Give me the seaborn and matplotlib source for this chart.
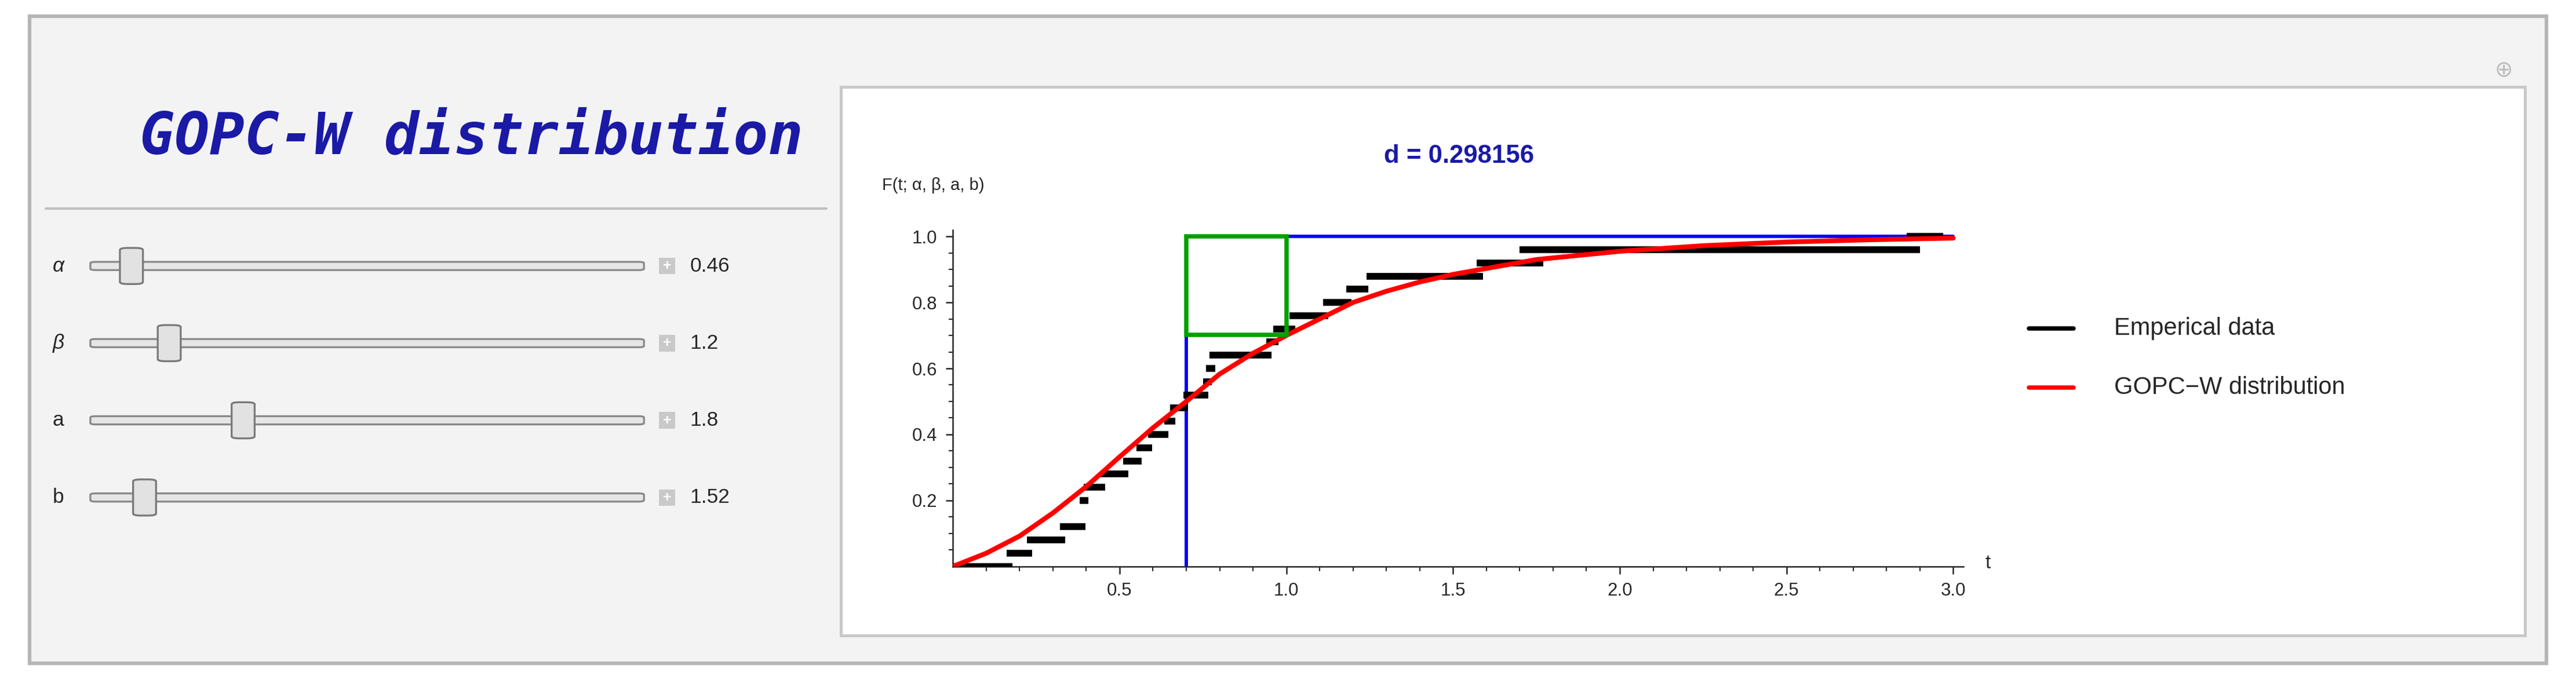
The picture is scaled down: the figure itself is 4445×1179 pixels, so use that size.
import numpy as np
import matplotlib
matplotlib.use("Agg")
import matplotlib.pyplot as plt
import seaborn as sns
from matplotlib.patches import Rectangle, FancyBboxPatch
from matplotlib.lines import Line2D

sns.set_style("ticks")
plt.rcParams['font.family'] = ['Liberation Sans', 'DejaVu Sans']

# empirical step segments (level, start t, end t)
emp_level = [0.0, 0.04, 0.08, 0.12, 0.20, 0.24, 0.28, 0.32, 0.36, 0.40, 0.44, 0.48, 0.52,
             0.56, 0.60, 0.64, 0.68, 0.72, 0.76, 0.80, 0.84, 0.88, 0.92, 0.96, 1.00]
emp_start = [0.0, 0.162, 0.222, 0.322, 0.381, 0.392, 0.442, 0.511, 0.551, 0.586, 0.634, 0.651, 0.691,
             0.751, 0.760, 0.770, 0.940, 0.961, 1.009, 1.110, 1.180, 1.240, 1.570, 1.700, 2.860]
emp_end = [0.178, 0.238, 0.337, 0.397, 0.407, 0.456, 0.527, 0.567, 0.597, 0.646, 0.667, 0.706, 0.766,
           0.777, 0.787, 0.956, 0.977, 1.026, 1.126, 1.195, 1.246, 1.590, 1.770, 2.900, 2.970]

# fitted GOPC-W cdf
cdf_t = [0, 0.1, 0.2, 0.3, 0.4, 0.5, 0.6, 0.7, 0.8, 0.9, 1.0, 1.1, 1.2, 1.3, 1.4, 1.5, 1.75, 2.0, 2.25, 2.5, 2.75, 3.0]
cdf_F = [0, 0.04, 0.092, 0.162, 0.242, 0.332, 0.42, 0.50, 0.583, 0.646, 0.70, 0.75, 0.80, 0.834, 0.862,
         0.885, 0.93, 0.955, 0.972, 0.983, 0.99, 0.995]

params = ['α', 'β', 'a', 'b']
param_vals = ['0.46', '1.2', '1.8', '1.52']
thumb_x = [80, 103, 148, 88]  # display px of slider thumbs

d_stat = 0.298156
t_at = 0.70

W, H = 1568, 416
fig = plt.figure(figsize=(4445 / 300, 1179 / 300), dpi=300)
fig.patch.set_facecolor('white')

def fx(x):
    return x / W

def fy(y):
    return 1 - y / H

# outer gray panel
fig.patches.append(Rectangle((fx(18), fy(404)), fx(1550 - 18), (404 - 10) / H, transform=fig.transFigure,
                             facecolor='#f3f3f3', edgecolor='#b5b5b5', lw=1.5, zorder=0))
# white plot panel
fig.patches.append(Rectangle((fx(512), fy(387)), fx(1537 - 512), (387 - 53) / H, transform=fig.transFigure,
                             facecolor='white', edgecolor='#c8c8c8', lw=1.2, zorder=1))

fig.text(fx(287), fy(84), 'GOPC-W distribution', color='#1a1aa6', fontsize=24, fontstyle='italic',
         fontweight='bold', family=['DejaVu Sans Mono'], ha='center', va='center')
fig.lines.append(Line2D([fx(28), fx(503)], [fy(127), fy(127)], transform=fig.transFigure, color='#c0c0c0', lw=1))
fig.text(fx(1524), fy(43), '⊕', color='#bbbbbb', fontsize=9, ha='center', va='center', family=['DejaVu Sans'])

for i, (p, v, tx) in enumerate(zip(params, param_vals, thumb_x)):
    yy = 162 + 47 * i
    fig.text(fx(32), fy(yy), p, fontsize=8.5, ha='left', va='center',
             fontstyle='italic' if p in ('α', 'β') else 'normal')
    fig.patches.append(FancyBboxPatch((fx(55), fy(yy + 2.5)), fx(392 - 55), 5 / H, boxstyle='round,pad=0,rounding_size=0.002',
                                      transform=fig.transFigure, facecolor='#e6e6e6', edgecolor='#8a8a8a', lw=0.8))
    fig.patches.append(FancyBboxPatch((fx(tx - 7), fy(yy + 11)), fx(14), 22 / H, boxstyle='round,pad=0,rounding_size=0.003',
                                      transform=fig.transFigure, facecolor='#e2e2e2', edgecolor='#7a7a7a', lw=0.8))
    fig.patches.append(Rectangle((fx(401), fy(yy + 5)), fx(10), 10 / H, transform=fig.transFigure,
                                 facecolor='#c9c9c9', edgecolor='none'))
    fig.text(fx(406), fy(yy), '+', fontsize=6, color='white', ha='center', va='center', fontweight='bold')
    fig.text(fx(420), fy(yy), v, fontsize=8.5, ha='left', va='center')

ax = fig.add_axes([fx(580), fy(345), fx(1195 - 580), (345 - 140) / H])
ax.set_zorder(5)
ax.patch.set_alpha(0)
ax.hlines(emp_level, emp_start, emp_end, color='black', lw=2.8, zorder=3)
sns.lineplot(x=cdf_t, y=cdf_F, color='red', lw=2, ax=ax, zorder=4)
ax.plot([t_at, t_at], [0, 1.0], color='blue', lw=1.4, zorder=2)
ax.plot([t_at, 3.0], [1.0, 1.0], color='blue', lw=1.4, zorder=2)
ax.add_patch(Rectangle((t_at, 1 - d_stat), 1.0 - t_at, d_stat, fill=False, edgecolor='#00a000', lw=1.8, zorder=5))

ax.set_xlim(0, 3.03)
ax.set_ylim(0, 1.02)
ax.set_xticks([0.5, 1.0, 1.5, 2.0, 2.5, 3.0])
ax.set_xticks(np.arange(0.1, 3.01, 0.1), minor=True)
ax.set_yticks([0.2, 0.4, 0.6, 0.8, 1.0])
ax.set_yticks(np.arange(0.05, 1.01, 0.05), minor=True)
ax.tick_params(labelsize=7.5, length=3, width=0.6)
ax.tick_params(which='minor', length=1.8, width=0.5)
for s in ['top', 'right']:
    ax.spines[s].set_visible(False)
for s in ['left', 'bottom']:
    ax.spines[s].set_linewidth(0.6)

fig.text(fx(1210), fy(343), 't', fontsize=8, ha='center', va='center')
fig.text(fx(537), fy(113), 'F(t; α, β, a, b)', fontsize=7, ha='left', va='center')
fig.text(fx(888), fy(95), f'd = {d_stat}', color='#1a1aa6', fontsize=10.5, fontweight='bold', ha='center', va='center')

fig.lines.append(Line2D([fx(1235), fx(1262)], [fy(200), fy(200)], transform=fig.transFigure, color='black', lw=1.8))
fig.text(fx(1287), fy(200), 'Emperical data', fontsize=10, ha='left', va='center')
fig.lines.append(Line2D([fx(1235), fx(1262)], [fy(236), fy(236)], transform=fig.transFigure, color='red', lw=1.8))
fig.text(fx(1287), fy(236), 'GOPC\u2212W distribution', fontsize=10, ha='left', va='center')

fig.savefig('out.png', dpi=300)
